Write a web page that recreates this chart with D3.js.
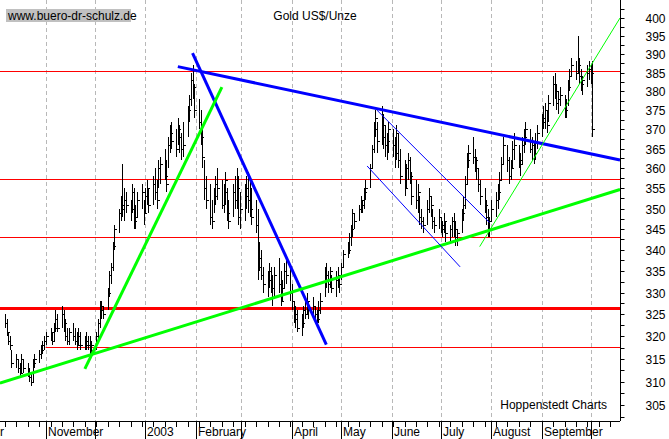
<!DOCTYPE html>
<html><head><meta charset="utf-8">
<script src="https://cdn.jsdelivr.net/npm/d3@7"></script>
<style>body{margin:0;background:#fff}svg{display:block}text{font-family:"Liberation Sans",Arial,sans-serif;font-size:12px}</style>
</head><body><svg id="c" width="669" height="439"></svg>
<script>
const title = "Gold US$/Unze";
const startDate = "2002-10-07";
// daily [high, low, close]
const ohlc = [
[325,322,323],[324,320,321],[321,318,319],[320,317,318],[317,313,314],[316,313,315],[315,312,313],[314,311,312],[316,312,315],[315,312,313],[314,311,312],[313,310,311],[312,309,310],[315,310,314],[316,313,315],[317,314,316],[318,315,317],[319,316,318],[320,317,319],
[321,318,320],[322,319,321],[321,318,319],[323,319,322],[326,321,324],[325,321,322],[327,322,325],[326,321,323],[324,319,320],[322,318,319],[322,318,321],[323,319,320],[322,318,319],[321,317,318],[322,318,320],[321,317,318],[320,317,318],[321,317,319],[320,317,318],[320,316,317],[319,316,318],
[321,317,320],[324,319,323],[328,322,327],[328,324,326],[327,324,325],[331,326,330],[335,329,334],[337,332,336],[342,335,341],[346,340,345],[350,344,349],[353,347,351],[361,348,350],[355,347,352],[354,349,351],[352,347,350],[356,349,354],[355,345,347],[351,345,348],[354,348,352],[356,350,354],[352,346,349],
[355,349,353],[357,351,355],[355,349,351],[358,351,356],[360,352,354],[357,350,352],[362,355,360],[363,356,361],[365,357,358],[362,354,356],[368,360,366],[371,364,369],[372,365,367],[370,363,365],[373,366,370],[371,364,368],[369,362,365],[372,363,366],[376,368,375],[379,372,378],[385,376,383],[387,378,381],[382,373,375],
[378,370,372],[375,366,368],[370,360,363],[362,352,355],[358,350,352],[356,346,348],[352,345,347],[355,349,353],[358,351,356],[360,352,355],[357,350,351],[356,349,354],[359,351,357],[355,347,349],[352,345,347],[356,348,354],[358,350,352],[360,350,355],[358,346,348],[354,345,350],
[356,347,353],[358,350,355],[359,349,352],[357,348,350],[355,346,348],[352,344,346],[350,333,336],[342,335,338],[340,333,334],[336,330,332],[335,329,333],[337,331,335],[336,330,331],[334,327,329],[336,329,334],[338,330,332],[335,327,328],[333,328,331],[337,331,335],[338,332,334],[336,328,330],
[332,326,328],[328,323,325],[327,322,324],[326,321,322],[325,320,323],[327,322,326],[328,324,325],[330,325,328],[328,324,326],[329,325,327],[327,323,325],[326,322,324],[328,323,326],[330,325,328],[336,329,334],[337,331,333],[335,330,332],[336,331,335],[334,330,331],[335,329,333],[336,331,334],[334,330,332],
[337,333,336],[340,336,339],[342,338,340],[344,339,343],[346,341,345],[350,343,349],[349,345,347],[351,347,350],[353,349,352],[352,349,351],[355,350,354],[357,352,355],[361,355,360],[366,360,365],[372,364,370],[375,368,373],[372,364,367],[376,366,371],[374,365,368],[371,363,366],[369,362,367],[372,364,370],
[370,363,366],[368,360,364],[371,362,369],[369,360,362],[365,356,358],[362,353,355],[361,355,360],[364,357,362],[363,356,358],[359,351,353],[357,350,352],[356,349,354],[353,346,348],[350,345,347],[348,344,346],[352,346,350],[355,349,353],[353,348,351],[350,345,347],[348,344,346],[350,345,348],
[348,344,346],[347,343,345],[349,344,347],[347,342,344],[346,342,345],[348,343,347],[349,343,345],[347,341,343],[345,341,344],[350,344,349],[353,347,351],[358,350,356],[364,356,362],[366,360,364],[368,361,363],[365,359,362],[363,357,360],[360,354,356],[357,351,353],[355,349,351],[352,346,348],[350,343,345],[348,343,347],
[352,347,350],[354,348,352],[356,350,354],[359,352,357],[363,357,361],[368,361,366],[366,359,362],[363,356,358],[362,357,360],[367,360,365],[369,362,366],[366,360,362],[364,358,361],[368,361,366],[370,364,368],[372,366,370],[370,364,365],[368,362,366],[367,361,364],[369,362,367],[371,365,369],
[374,368,373],[376,370,372],[377,370,375],[375,369,371],[379,372,377],[384,376,382],[385,378,380],[382,375,377],[380,374,378],[381,376,379],[379,373,375],[378,373,377],[383,376,381],[386,380,384],[389,384,387],[388,383,385],[395,385,387],[389,382,384],[386,380,382],[384,379,383],[387,381,385],[388,383,386],
[387,382,385],[388,368,370]
];
const yTicks = [305,310,315,320,325,330,335,340,345,350,355,360,365,370,375,380,385,390,395,400];
const monthLabels = [["2002-10-01","r"],["2002-11-01","November"],["2002-12-01",""],["2003-01-01","2003"],["2003-02-01","February"],["2003-03-01",""],["2003-04-01","April"],["2003-05-01","May"],["2003-06-01","June"],["2003-07-01","July"],["2003-08-01","August"],["2003-09-01","September"],["2003-10-01",""]];
// horizontal support/resistance levels: [price, startDate, thick]
const levels = [[385.3,"2002-10-04",0],[357.3,"2002-10-04",0],[343.2,"2002-10-04",0],[326.5,"2002-10-04",1],[317.6,"2002-11-01",0]];
// trendlines: [date1, price1, date2, price2, color, width]
const trends = [
["2003-01-21",386.6,"2003-10-19",362.1,"#0000ff",3],
["2003-01-30",390.3,"2003-04-22",318.2,"#0000ff",3],
["2002-10-04",309.7,"2003-10-19",354.7,"#00ff00",3],
["2002-11-25",312.8,"2003-02-17",381.1,"#00ff00",3],
["2003-05-23",375.0,"2003-07-31",346.6,"#0000ff",1],
["2003-05-17",360.6,"2003-07-13",336.0,"#0000ff",1],
["2003-07-25",340.8,"2003-10-19",400.0,"#00ff00",1]
];
const P = d3.timeParse("%Y-%m-%d");
const svg = d3.select("#c");
const x = d3.scaleTime().domain([P("2002-10-04"),P("2003-10-19")]).range([0,620]);
const y = d3.scaleLog().domain([305,400]).range([405,18]);
const W=620, B=421;
let dates=[], d=P(startDate);
while(dates.length<ohlc.length){ if(d.getDay()>0&&d.getDay()<6) dates.push(new Date(d)); d=d3.timeDay.offset(d,1);}
svg.append("g").selectAll("line").data(monthLabels).join("line")
 .attr("x1",m=>Math.round(x(P(m[0])))+0.5).attr("x2",m=>Math.round(x(P(m[0])))+0.5)
 .attr("y1",0).attr("y2",B).attr("stroke","#b8b8b8").attr("stroke-dasharray","4,3");
svg.append("rect").attr("x",6).attr("y",9).attr("width",125).attr("height",13).attr("fill","#c0c0c0");
svg.append("text").attr("x",8).attr("y",20).attr("font-size","11.5px").text("www.buero-dr-schulz.de");
svg.append("text").attr("x",315).attr("y",20).attr("text-anchor","middle").text(title);
svg.append("text").attr("x",607).attr("y",409).attr("text-anchor","end").attr("font-size","11px").text("Hoppenstedt Charts");
svg.append("g").selectAll("line").data(levels).join("line")
 .attr("x1",l=>x(P(l[1]))).attr("x2",W).attr("y1",l=>Math.round(y(l[0]))+0.5).attr("y2",l=>Math.round(y(l[0]))+0.5)
 .attr("stroke","#ff0000").attr("stroke-width",l=>l[2]?3:1);
const g=svg.append("g").attr("stroke","#000").attr("shape-rendering","crispEdges");
ohlc.forEach((b,i)=>{
  const xx=Math.round(x(dates[i]))+0.5;
  g.append("line").attr("x1",xx).attr("x2",xx).attr("y1",y(b[0])).attr("y2",y(b[1])).attr("stroke-width",1.3);
  g.append("line").attr("x1",xx).attr("x2",xx+2).attr("y1",Math.round(y(b[2]))+0.5).attr("y2",Math.round(y(b[2]))+0.5);
});
svg.append("g").selectAll("line").data(trends).join("line")
 .attr("x1",t=>x(P(t[0]))).attr("y1",t=>y(t[1])).attr("x2",t=>x(P(t[2]))).attr("y2",t=>y(t[3]))
 .attr("stroke",t=>t[4]).attr("stroke-width",t=>t[5]);
const ra=svg.append("g").attr("transform",`translate(${W+0.5},0)`);
ra.append("line").attr("y1",0).attr("y2",B).attr("stroke","#000");
const minor=d3.range(302.5,405,2.5).filter(v=>y(v)>=0&&y(v)<=B);
ra.selectAll(".mt").data(minor).join("line").attr("x1",0).attr("x2",4)
 .attr("y1",v=>Math.round(y(v))+0.5).attr("y2",v=>Math.round(y(v))+0.5).attr("stroke","#000");
ra.selectAll("text").data(yTicks).join("text").attr("x",45).attr("y",v=>y(v)+5)
 .attr("text-anchor","end").attr("font-size","13px").text(v=>v);
const ba=svg.append("g");
ba.append("line").attr("x1",0).attr("x2",W).attr("y1",B+0.5).attr("y2",B+0.5).attr("stroke","#000");
const weeks=d3.timeMonday.range(P("2002-10-04"),P("2003-10-19"));
ba.selectAll(".wt").data(weeks).join("line").attr("x1",w=>Math.round(x(w))+0.5).attr("x2",w=>Math.round(x(w))+0.5)
 .attr("y1",B).attr("y2",B+6).attr("stroke","#000");
ba.selectAll(".mt").data(monthLabels).join("line").attr("x1",m=>Math.round(x(P(m[0])))+0.5).attr("x2",m=>Math.round(x(P(m[0])))+0.5)
 .attr("y1",B).attr("y2",439).attr("stroke","#000");
ba.selectAll("text").data(monthLabels).join("text").attr("x",m=>m[1]==="r"?0:Math.round(x(P(m[0])))+2).attr("y",436).text(m=>m[1]);
</script></body></html>
